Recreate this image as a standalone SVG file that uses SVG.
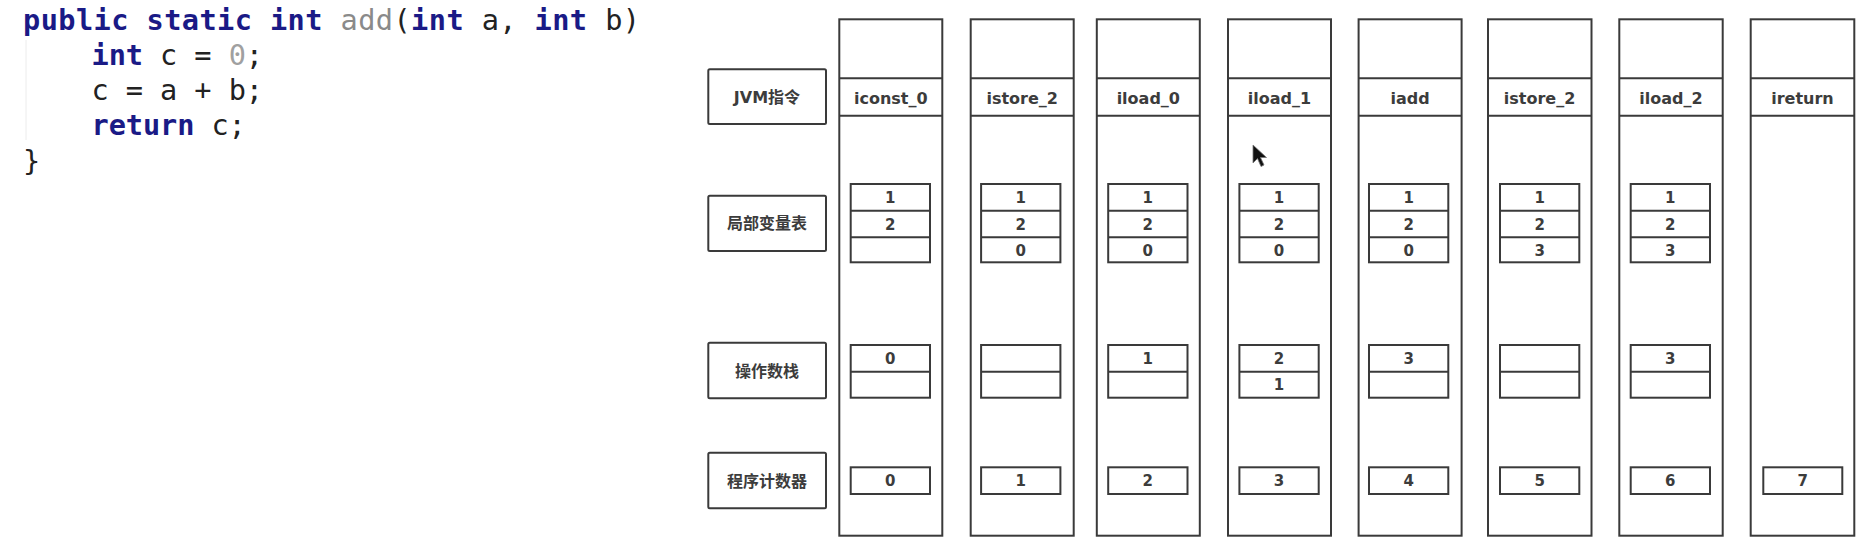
<svg xmlns="http://www.w3.org/2000/svg" width="1861" height="543" viewBox="0 0 1861 543">
<style>
.bx{fill:#fff;stroke:#3a3a3a;stroke-width:2}
.ln{stroke:#3a3a3a;stroke-width:2;fill:none}
.t{font-family:"DejaVu Sans","Noto Sans CJK SC",sans-serif;font-weight:bold;fill:#3c3c3c;text-anchor:middle}
.ins{font-size:16px}
.num{font-size:15px}
.lab{font-size:16px}
.code{font-family:"DejaVu Sans Mono","Liberation Mono",monospace;font-size:28.6px;fill:#222}
.kw{fill:#1a1a86;font-weight:bold}
.fn{fill:#8a8a8a}
.lit{fill:#a0a0a0}
</style>
<rect width="1861" height="543" fill="#fff"/>
<g id="code">
<line x1="26" y1="40" x2="26" y2="140" stroke="#ececec" stroke-width="1"/>
<text class="code" xml:space="preserve" x="23" y="29.5" textLength="617" lengthAdjust="spacing"><tspan class="kw">public static int</tspan> <tspan class="fn">add</tspan>(<tspan class="kw">int</tspan> a, <tspan class="kw">int</tspan> b)</text>
<text class="code" xml:space="preserve" x="23" y="64.8" textLength="240" lengthAdjust="spacing">    <tspan class="kw">int</tspan> c = <tspan class="lit">0</tspan>;</text>
<text class="code" xml:space="preserve" x="23" y="100" textLength="240" lengthAdjust="spacing">    c = a + b;</text>
<text class="code" xml:space="preserve" x="23" y="135.3" textLength="222.8" lengthAdjust="spacing">    <tspan class="kw">return</tspan> c;</text>
<text class="code" xml:space="preserve" x="23" y="170.5">}</text>
</g>
<g id="label-jvm"><rect class="bx" x="708.3" y="69.3" width="117.7" height="54.7" rx="1.5"/><text class="t lab" x="767" y="102.5">JVM指令</text></g>
<g id="label-locals"><rect class="bx" x="708.3" y="195.7" width="117.7" height="55.3" rx="1.5"/><text class="t lab" x="767" y="229">局部变量表</text></g>
<g id="label-stack"><rect class="bx" x="708.3" y="342.7" width="117.7" height="55.6" rx="1.5"/><text class="t lab" x="767" y="376.5">操作数栈</text></g>
<g id="label-pc"><rect class="bx" x="708.3" y="452.7" width="117.7" height="55.6" rx="1.5"/><text class="t lab" x="767" y="486.5">程序计数器</text></g>

<g id="col1" transform="translate(839.3,0)">
<rect class="bx" x="0" y="19.3" width="103" height="516.4"/>
<line class="ln" x1="0" y1="78.3" x2="103" y2="78.3"/><line class="ln" x1="0" y1="115.7" x2="103" y2="115.7"/>
<text class="t ins" x="51.5" y="103.5">iconst_0</text>
<rect class="bx" x="11.4" y="184" width="79.3" height="78.3"/><line class="ln" x1="11.4" y1="210.7" x2="90.7" y2="210.7"/><line class="ln" x1="11.4" y1="237.3" x2="90.7" y2="237.3"/>
<text class="t num" x="51" y="202.8">1</text><text class="t num" x="51" y="229.5">2</text>
<rect class="bx" x="11.4" y="345" width="79.3" height="52.7"/><line class="ln" x1="11.4" y1="371.8" x2="90.7" y2="371.8"/>
<text class="t num" x="51" y="363.8">0</text>
<rect class="bx" x="11.4" y="467.3" width="79.3" height="26.7"/><text class="t num" x="51" y="486">0</text>
</g>

<g id="col2" transform="translate(970.7,0)">
<rect class="bx" x="0" y="19.3" width="103" height="516.4"/>
<line class="ln" x1="0" y1="78.3" x2="103" y2="78.3"/><line class="ln" x1="0" y1="115.7" x2="103" y2="115.7"/>
<text class="t ins" x="51.5" y="103.5">istore_2</text>
<rect class="bx" x="10.4" y="184" width="79.3" height="78.3"/><line class="ln" x1="10.4" y1="210.7" x2="89.7" y2="210.7"/><line class="ln" x1="10.4" y1="237.3" x2="89.7" y2="237.3"/>
<text class="t num" x="50" y="202.8">1</text><text class="t num" x="50" y="229.5">2</text><text class="t num" x="50" y="255.5">0</text>
<rect class="bx" x="10.4" y="345" width="79.3" height="52.7"/><line class="ln" x1="10.4" y1="371.8" x2="89.7" y2="371.8"/>
<rect class="bx" x="10.4" y="467.3" width="79.3" height="26.7"/><text class="t num" x="50" y="486">1</text>
</g>

<g id="col3" transform="translate(1096.8,0)">
<rect class="bx" x="0" y="19.3" width="103" height="516.4"/>
<line class="ln" x1="0" y1="78.3" x2="103" y2="78.3"/><line class="ln" x1="0" y1="115.7" x2="103" y2="115.7"/>
<text class="t ins" x="51.5" y="103.5">iload_0</text>
<rect class="bx" x="11.4" y="184" width="79.3" height="78.3"/><line class="ln" x1="11.4" y1="210.7" x2="90.7" y2="210.7"/><line class="ln" x1="11.4" y1="237.3" x2="90.7" y2="237.3"/>
<text class="t num" x="51" y="202.8">1</text><text class="t num" x="51" y="229.5">2</text><text class="t num" x="51" y="255.5">0</text>
<rect class="bx" x="11.4" y="345" width="79.3" height="52.7"/><line class="ln" x1="11.4" y1="371.8" x2="90.7" y2="371.8"/>
<text class="t num" x="51" y="363.8">1</text>
<rect class="bx" x="11.4" y="467.3" width="79.3" height="26.7"/><text class="t num" x="51" y="486">2</text>
</g>

<g id="col4" transform="translate(1228,0)">
<rect class="bx" x="0" y="19.3" width="103" height="516.4"/>
<line class="ln" x1="0" y1="78.3" x2="103" y2="78.3"/><line class="ln" x1="0" y1="115.7" x2="103" y2="115.7"/>
<text class="t ins" x="51.5" y="103.5">iload_1</text>
<rect class="bx" x="11.4" y="184" width="79.3" height="78.3"/><line class="ln" x1="11.4" y1="210.7" x2="90.7" y2="210.7"/><line class="ln" x1="11.4" y1="237.3" x2="90.7" y2="237.3"/>
<text class="t num" x="51" y="202.8">1</text><text class="t num" x="51" y="229.5">2</text><text class="t num" x="51" y="255.5">0</text>
<rect class="bx" x="11.4" y="345" width="79.3" height="52.7"/><line class="ln" x1="11.4" y1="371.8" x2="90.7" y2="371.8"/>
<text class="t num" x="51" y="363.8">2</text><text class="t num" x="51" y="390">1</text>
<rect class="bx" x="11.4" y="467.3" width="79.3" height="26.7"/><text class="t num" x="51" y="486">3</text>
</g>

<g id="col5" transform="translate(1358.6,0)">
<rect class="bx" x="0" y="19.3" width="103" height="516.4"/>
<line class="ln" x1="0" y1="78.3" x2="103" y2="78.3"/><line class="ln" x1="0" y1="115.7" x2="103" y2="115.7"/>
<text class="t ins" x="51.5" y="103.5">iadd</text>
<rect class="bx" x="10.4" y="184" width="79.3" height="78.3"/><line class="ln" x1="10.4" y1="210.7" x2="89.7" y2="210.7"/><line class="ln" x1="10.4" y1="237.3" x2="89.7" y2="237.3"/>
<text class="t num" x="50" y="202.8">1</text><text class="t num" x="50" y="229.5">2</text><text class="t num" x="50" y="255.5">0</text>
<rect class="bx" x="10.4" y="345" width="79.3" height="52.7"/><line class="ln" x1="10.4" y1="371.8" x2="89.7" y2="371.8"/>
<text class="t num" x="50" y="363.8">3</text>
<rect class="bx" x="10.4" y="467.3" width="79.3" height="26.7"/><text class="t num" x="50" y="486">4</text>
</g>

<g id="col6" transform="translate(1488,0)">
<rect class="bx" x="0" y="19.3" width="103.5" height="516.4"/>
<line class="ln" x1="0" y1="78.3" x2="103.5" y2="78.3"/><line class="ln" x1="0" y1="115.7" x2="103.5" y2="115.7"/>
<text class="t ins" x="51.5" y="103.5">istore_2</text>
<rect class="bx" x="12" y="184" width="79.3" height="78.3"/><line class="ln" x1="12" y1="210.7" x2="91.3" y2="210.7"/><line class="ln" x1="12" y1="237.3" x2="91.3" y2="237.3"/>
<text class="t num" x="51.6" y="202.8">1</text><text class="t num" x="51.6" y="229.5">2</text><text class="t num" x="51.6" y="255.5">3</text>
<rect class="bx" x="12" y="345" width="79.3" height="52.7"/><line class="ln" x1="12" y1="371.8" x2="91.3" y2="371.8"/>
<rect class="bx" x="12" y="467.3" width="79.3" height="26.7"/><text class="t num" x="51.6" y="486">5</text>
</g>

<g id="col7" transform="translate(1619.3,0)">
<rect class="bx" x="0" y="19.3" width="103.4" height="516.4"/>
<line class="ln" x1="0" y1="78.3" x2="103.4" y2="78.3"/><line class="ln" x1="0" y1="115.7" x2="103.4" y2="115.7"/>
<text class="t ins" x="51.7" y="103.5">iload_2</text>
<rect class="bx" x="11.4" y="184" width="79.3" height="78.3"/><line class="ln" x1="11.4" y1="210.7" x2="90.7" y2="210.7"/><line class="ln" x1="11.4" y1="237.3" x2="90.7" y2="237.3"/>
<text class="t num" x="51" y="202.8">1</text><text class="t num" x="51" y="229.5">2</text><text class="t num" x="51" y="255.5">3</text>
<rect class="bx" x="11.4" y="345" width="79.3" height="52.7"/><line class="ln" x1="11.4" y1="371.8" x2="90.7" y2="371.8"/>
<text class="t num" x="51" y="363.8">3</text>
<rect class="bx" x="11.4" y="467.3" width="79.3" height="26.7"/><text class="t num" x="51" y="486">6</text>
</g>

<g id="col8" transform="translate(1750.7,0)">
<rect class="bx" x="0" y="19.3" width="103.6" height="516.4"/>
<line class="ln" x1="0" y1="78.3" x2="103.6" y2="78.3"/><line class="ln" x1="0" y1="115.7" x2="103.6" y2="115.7"/>
<text class="t ins" x="51.8" y="103.5">ireturn</text>
<rect class="bx" x="12.6" y="467.3" width="79" height="26.7"/><text class="t num" x="52.1" y="486">7</text>
</g>

<g id="connectors"></g>

<g id="cursor">
<polygon points="1253,145 1253,163 1257.5,158.5 1261,166.5 1264,165 1260.5,157.5 1266.5,157.5" fill="#111" stroke="#777" stroke-width="0.8" stroke-linejoin="round"/>
</g>
</svg>
